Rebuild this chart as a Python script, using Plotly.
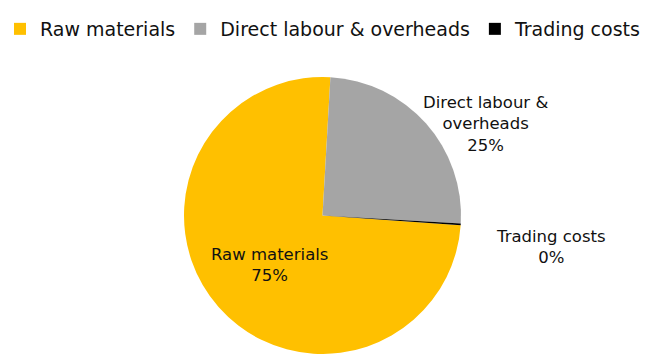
import plotly.graph_objects as go

# Cost split data
labels = ["Raw materials", "Direct labour & overheads", "Trading costs"]
values = [74.8, 25.0, 0.2]
colors = ["#FFC000", "#A5A5A5", "#000000"]
# wrapped slice labels for the on-chart captions
caption_lines = ["Raw materials", "Direct labour &<br>overheads", "Trading costs"]

W, H = 645, 354
FONT = "DejaVu Sans"

total = sum(values)
pct = [round(v / total * 100) for v in values]

# pie geometry (pixels)
cx, top = 322.5, 77
r = (H - top) / 2

fig = go.Figure(
    go.Pie(
        labels=labels,
        values=values,
        marker=dict(colors=colors, line=dict(width=0)),
        sort=False,
        direction="clockwise",
        rotation=94,
        textinfo="none",
        hoverinfo="label+percent",
        domain=dict(x=[(cx - r) / W, (cx + r) / W], y=[0, (H - top) / H]),
    )
)

# caption positions (pixels: x centre, y centre of block)
caption_pos = [(269, 265), (485, 124), (551, 247)]
for text, p, (px, py) in zip(caption_lines, pct, caption_pos):
    fig.add_annotation(
        x=px / W, y=1 - py / H, xref="paper", yref="paper",
        text=f"{text}<br>{p}%", showarrow=False,
        xanchor="center", yanchor="middle", align="center",
        font=dict(family=FONT, size=16.5, color="#111111"),
    )

fig.update_layout(
    width=W, height=H,
    margin=dict(l=0, r=0, t=0, b=0),
    paper_bgcolor="white", plot_bgcolor="white",
    showlegend=True,
    legend=dict(
        orientation="h", x=0, y=1 - 10 / H, xanchor="left", yanchor="top",
        font=dict(family=FONT, size=19, color="#111111"),
        itemwidth=30, traceorder="normal",
    ),
    font=dict(family=FONT),
)

fig.write_html("out.html")
